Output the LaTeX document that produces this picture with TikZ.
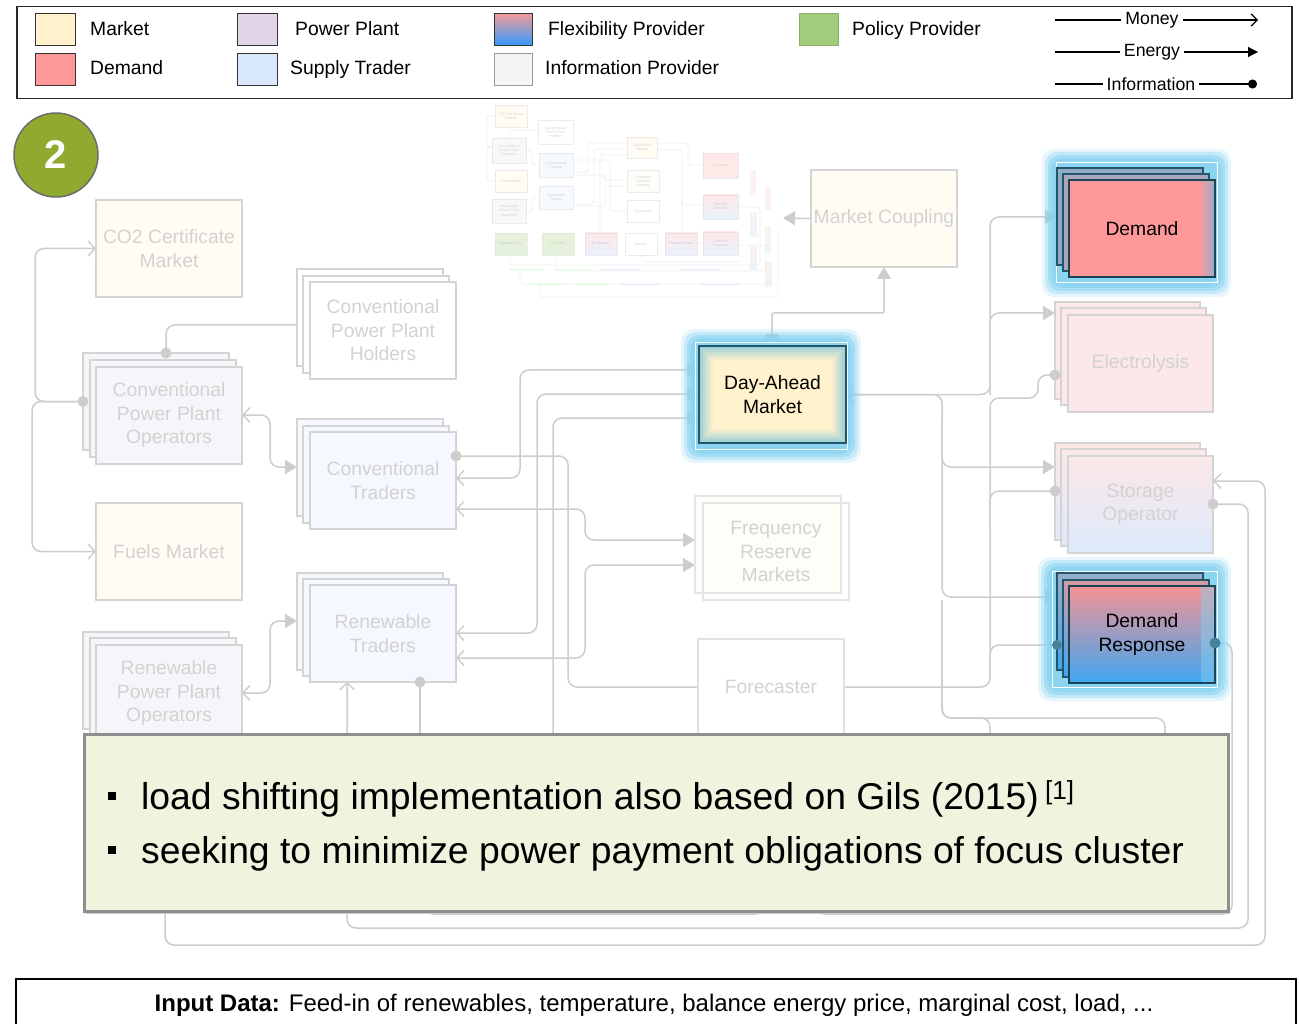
\documentclass[tikz,border=0pt]{standalone}
\usepackage{fontspec}
\setmainfont{Liberation Sans}
\usetikzlibrary{arrows.meta,calc}
\pgfdeclarelayer{bgwhite}
\pgfdeclarelayer{back}
\pgfdeclarelayer{lines}
\pgfdeclarelayer{glow}
\pgfdeclarelayer{front}
\pgfsetlayers{bgwhite,back,lines,glow,main,front}

\definecolor{lnc}{HTML}{CDCDCD}
\definecolor{fbord}{HTML}{D4D4D4}
\definecolor{ftext}{HTML}{D2D2D2}
\definecolor{mkt}{HTML}{FFF2CC}
\definecolor{demc}{HTML}{FF9999}
\definecolor{ppc}{HTML}{E1D5E7}
\definecolor{stc}{HTML}{DAE8FC}
\definecolor{flexT}{HTML}{F19C99}
\definecolor{flexB}{HTML}{3399FF}
\definecolor{infoc}{HTML}{F5F5F5}
\definecolor{polc}{HTML}{A2CC7B}
\definecolor{polb}{HTML}{82B366}
\definecolor{fmkt}{HTML}{FFFCF3}
\definecolor{fpp}{HTML}{F7F5F9}
\definecolor{fst}{HTML}{F5F8FE}
\definecolor{fdem}{HTML}{FCE8E8}
\definecolor{fsob}{HTML}{DDE9FB}
\definecolor{glowc}{HTML}{86D3F1}
\definecolor{hib}{HTML}{22566A}
\definecolor{bulbg}{HTML}{EFF4DF}
\definecolor{bulbd}{HTML}{8E8E8E}
\definecolor{circg}{HTML}{8FAA2E}
\definecolor{drT}{HTML}{F59393}
\definecolor{drM}{HTML}{A498C8}
\definecolor{drB}{HTML}{3FA6F3}
\definecolor{demS}{HTML}{97AECB}
\definecolor{demBk}{HTML}{93AAC4}
\definecolor{demMd}{HTML}{A9A6BD}
\definecolor{daEdge}{HTML}{9CCFD6}

\tikzset{
  OB/.tip={Straight Barb[length=7pt,width=15pt,line width=1.4pt]},
  FT/.tip={Triangle[length=12pt,width=14pt]},
  fl/.style={draw=lnc, line width=1.5pt, rounded corners=9pt},
  idot/.style={fill=lnc},
  fbox/.style={draw=fbord, line width=1.4pt, minimum width=146pt, minimum height=97pt, anchor=north west, inner sep=0pt, outer sep=0pt, text=ftext, font=\fontsize{19.3}{23.5}\selectfont, align=center},
  hbox/.style={draw=hib, line width=1.5pt, minimum width=146pt, minimum height=97pt, anchor=north west, inner sep=0pt, outer sep=0pt, text=black, font=\fontsize{19.3}{23.5}\selectfont, align=center},
  swatch/.style={draw=black!80, line width=1.4pt, minimum width=40pt, minimum height=32pt, anchor=north west, inner sep=0pt},
  leglab/.style={anchor=base west, inner sep=0pt, font=\fontsize{19.3}{22}\selectfont},
  legsm/.style={inner sep=0pt, font=\fontsize{17.7}{20}\selectfont},
  tb/.style={draw=black!14, line width=0.6pt, anchor=north west, inner sep=0pt, outer sep=0pt, font=\fontsize{3.6}{4.2}\selectfont, text=black!30, align=center, minimum width=32pt, minimum height=22pt},
  tl/.style={draw=black!12, line width=0.7pt, rounded corners=3pt},
}

\newcommand\glowrect[4]{%
  \foreach \d/\o in {14/0.2,11/0.35,8/0.5,5/0.6,2/0.6}{%
    \fill[glowc, opacity=\o, rounded corners=12pt] ({#1-\d},{#2-\d}) rectangle ({#3+\d},{#4+\d});
  }}

\begin{document}
\begin{tikzpicture}[x=1pt,y=-1pt]
\useasboundingbox (0,0) rectangle (1299,1024);
\begin{pgfonlayer}{bgwhite}
\fill[white] (0,0) rectangle (1299,1024);
\end{pgfonlayer}

% ================= thumbnail =================
\begin{pgfonlayer}{back}
\begin{scope}[opacity=0.55]
  \fill[fdem] (750,170) rectangle (756,195);
  \fill[fdem] (765,187) rectangle (771,210);
  \shade[top color=fdem, bottom color=fsob] (750,213) rectangle (757,237);
  \shade[top color=fdem, bottom color=fsob] (765,227) rectangle (771,252);
  \shade[top color=fdem, bottom color=fsob] (750,247) rectangle (757,270);
  \shade[top color=fdem, bottom color=fsob] (765,263) rectangle (772,287);
  \draw[tl] (497,147) -- (487,147) -- (487,116) -- (495,116);
  \draw[tl] (490,147) -- (487,147) -- (487,181) -- (495,181);
  \draw[tl] (538,130) -- (509,130) -- (509,138);
  \draw[tl] (526,150) -- (532,150) -- (532,165) -- (539,165);
  \draw[tl] (526,212) -- (532,212) -- (532,197) -- (539,197);
  \draw[tl] (573,172) -- (588,172) -- (588,143) -- (627,143);
  \draw[tl] (573,204) -- (594,204) -- (594,149) -- (627,149);
  \draw[tl] (600,255) -- (600,155) -- (627,155);
  \draw[tl] (573,175) -- (605,175) -- (605,180) -- (627,180);
  \draw[tl] (573,206) -- (605,206) -- (605,186) -- (627,186);
  \draw[tl] (573,160) -- (610,160) -- (610,211) -- (627,211);
  \draw[tl] (657,143) -- (688,143) -- (688,165) -- (703,165);
  \draw[tl] (657,150) -- (682,150) -- (682,205) -- (703,205);
  \draw[tl] (682,200) -- (682,243) -- (703,243);
  \draw[tl] (510,255) -- (510,265) -- (760,265) -- (760,207) -- (738,207);
  \draw[tl] (556,255) -- (556,271) -- (766,271) -- (766,245) -- (738,245);
  \draw[tl] (642,255) -- (642,262) -- (742,262) -- (742,255);
  \draw[tl] (520,270) -- (520,284) -- (778,284) -- (778,230);
  \draw[tl] (540,284) -- (540,297) -- (778,297) -- (778,284);
  \draw[green!25, line width=1pt] (510,270) -- (545,270) (555,270) -- (590,270) (530,285) -- (565,285) (575,285) -- (610,285);
  \draw[blue!15, line width=1pt] (600,270) -- (640,270) (680,270) -- (720,270) (620,285) -- (660,285) (700,285) -- (740,285);
  \node[tb, fill=mkt!40] (tco2) at (495,105) {CO2 Certificate\\Market};
  \node[tb, fill=white, minimum width=35pt, minimum height=24pt] (thold) at (538,120) {Conventional\\Power Plant\\Holders};
  \node[tb, fill=ppc!30, minimum width=34pt, minimum height=25pt] (tcpo) at (492,138) {Conventional\\Power Plant\\Operators};
  \node[tb, fill=stc!40, minimum width=34pt, minimum height=24pt] (tct) at (539,153) {Conventional\\Traders};
  \node[tb, fill=mkt!40] (tfuel) at (495,170) {Fuels Market};
  \node[tb, fill=stc!40, minimum width=34pt, minimum height=23pt] (trt) at (539,186) {Renewable\\Traders};
  \node[tb, fill=ppc!30, minimum width=34pt, minimum height=24pt] (trpo) at (492,199) {Renewable\\Power Plant\\Operators};
  \node[tb, fill=mkt!40, minimum width=30pt, minimum height=21pt] (tdam) at (627,137) {Day-Ahead\\Market};
  \node[tb, fill=mkt!20] (tfrm) at (627,170) {Frequency\\Reserve\\Markets};
  \node[tb, fill=white] (tfc) at (627,200) {Forecaster};
  \node[tb, fill=demc!40, minimum width=35pt, minimum height=25pt] (tdem) at (703,153) {Demand};
  \node[tb, top color=demc!40, bottom color=stc, minimum width=35pt, minimum height=24pt] (tso) at (703,195) {Storage\\Operator};
  \node[tb, top color=demc!40, bottom color=stc, minimum width=35pt, minimum height=23pt] (tdr) at (703,232) {Demand\\Response};
  \node[tb, fill=polc!50, draw=polb!30] (tsp) at (495,233) {Support Policy};
  \node[tb, fill=polc!50, draw=polb!30] (ttp) at (542,233) {Tax Policy};
  \node[tb, top color=demc!40, bottom color=stc] (tel) at (585,233) {Electrolysis};
  \node[tb, fill=white] (tret) at (625,233) {Retailer};
  \node[tb, top color=demc!40, bottom color=stc] (thp) at (665,233) {Heating Power};
\end{scope}
\end{pgfonlayer}

% ================= faded boxes =================
\node[fbox, fill=fmkt] (co2) at (96,200) {CO2 Certificate\\Market};
\node[fbox, fill=white] (hold1) at (297,269) {};
\node[fbox, fill=white] (hold2) at (303,276) {};
\node[fbox, fill=white] (hold) at (310,282) {Conventional\\Power Plant\\Holders};
\node[fbox, fill=fpp] (cpo1) at (83,353) {};
\node[fbox, fill=fpp] (cpo2) at (90,360) {};
\node[fbox, fill=fpp] (cpo) at (96,367) {Conventional\\Power Plant\\Operators};
\node[fbox, fill=fst] (ct1) at (297,419) {};
\node[fbox, fill=fst] (ct2) at (303,426) {};
\node[fbox, fill=fst] (ct) at (310,432) {Conventional\\Traders};
\node[fbox, fill=fmkt] (fuels) at (96,503) {Fuels Market};
\node[fbox, fill=fst] (rt1) at (297,573) {};
\node[fbox, fill=fst] (rt2) at (303,579) {};
\node[fbox, fill=fst] (rt) at (310,585) {Renewable\\Traders};
\node[fbox, fill=fpp] (rpo1) at (83,632) {};
\node[fbox, fill=fpp] (rpo2) at (90,638) {};
\node[fbox, fill=fpp] (rpo) at (96,645) {Renewable\\Power Plant\\Operators};
\node[fbox, fill=fmkt!60!white, draw=fbord!60!white] (frm1) at (695,496) {};
\node[fbox, draw=fbord!60!white] (frm2) at (703,503) {Frequency\\Reserve\\Markets};
\node[fbox, fill=white, draw=fbord!70!white, minimum height=96pt] (fc) at (698,639) {Forecaster};
\node[fbox, fill=fmkt] (mc) at (811,170) {Market Coupling};
\node[fbox, fill=fdem, minimum width=145pt] (el1) at (1055,302) {};
\node[fbox, fill=fdem, minimum width=145pt] (el2) at (1061,308) {};
\node[fbox, fill=fdem, minimum width=145pt] (el) at (1068,315) {Electrolysis};
\node[fbox, top color=fdem, bottom color=fsob, minimum width=145pt] (so1) at (1055,443) {};
\node[fbox, top color=fdem, bottom color=fsob, minimum width=145pt] (so2) at (1061,449) {};
\node[fbox, top color=fdem, bottom color=fsob, minimum width=145pt] (so) at (1068,456) {Storage\\Operator};

% ================= highlighted boxes =================
\draw[white, line width=1pt] (695,343) rectangle (847,449);
\fill[daEdge] (699,346) rectangle (846,443);
\foreach \i/\m in {2/15,4/30,6/45,8/60,10/75,12/90,14/100}{%
  \fill[mkt!\m!daEdge] ({699+\i},{346+\i}) rectangle ({846-\i},{443-\i});
}
\node[hbox, minimum width=147pt] (dam) at (699,346) {Day-Ahead\\Market};

\draw[white, line width=1pt] (1056,163) rectangle (1217,283);
\node[hbox, fill=demBk] (dem1) at (1057,168) {};
\node[hbox, fill=demMd] (dem2) at (1063,174) {};
\fill[demc] (1069,180) rectangle (1215,277);
\shade[left color=demc, right color=demS] (1199,180) rectangle (1215,277);
\node[hbox, draw=hib!80!black] (dem) at (1069,180) {Demand};

\draw[white, line width=1pt] (1052,571) rectangle (1217,687);
\node[hbox, top color=demS, bottom color=drB] (dr1) at (1057,573) {};
\node[hbox, top color=drT!70!demS, bottom color=drB] (dr2) at (1063,580) {};
\shade[top color=drT, middle color=drM, bottom color=drB] (1069,586) rectangle (1215,683);
\fill[glowc, opacity=0.45] (1201,587) rectangle (1215,682);
\node[hbox, draw=hib!80!black] (dr) at (1069,586) {Demand\\Response};

% ================= glows =================
\begin{pgfonlayer}{glow}
  \glowrect{695}{343}{847}{449}
  \glowrect{1056}{163}{1217}{283}
  \glowrect{1052}{571}{1217}{687}
\end{pgfonlayer}

% ================= connectors =================
\begin{pgfonlayer}{lines}
  \draw[fl, -OB] (cpo1.west) -- (35,0 |- cpo1.west) -- (35,0 |- co2.west) -- (co2.west);
  \draw[fl, -OB] (cpo1.west) -- (32,0 |- cpo1.west) -- (32,0 |- fuels.west) -- (fuels.west);
  \draw[fl] (hold1.west |- 0,325) -- (166,325) -- (166,0 |- cpo1.north);
  \draw[fl, OB-FT] (cpo.east |- 0,415) -- (270,415) -- (270,467) -- (ct1.west |- 0,467);
  \draw[fl, OB-FT] (rpo.east |- 0,693) -- (270,693) -- (270,621) -- (rt1.west |- 0,621);
  % loops under the text box
  \draw[fl, -OB] (so.east |- 0,504) -- (1248,504) -- (1248,928) -- (347,928) -- (347,0 |- rt.south);
  \draw[fl, -OB] (165,0 |- rpo.south) -- (165,945) -- (1265,945) -- (1265,481) -- (so.east |- 0,481);
  \coordinate (rtdown) at (420,820);
  \draw[fl] (rt.south -| 420,0) -- (rtdown);
  \draw[fl] (dr.east |- 0,643) -- (1232,643) -- (1232,914) -- (815,914) -- (815,870);
  \coordinate (hidA) at (424,870);
  \coordinate (hidB) at (765,870);
  \draw[fl] (hidA) -- (424,914) -- (765,914) -- (hidB);
  % forecaster to conventional traders
  \draw[fl] (fc.west |- 0,687) -- (568,687) -- (568,456) -- (ct.east |- 0,456);
  % day-ahead market inputs
  \draw[fl, OB-FT] (ct.east |- 0,478) -- (520,478) -- (520,370) -- (dam.west |- 0,370);
  \draw[fl, OB-FT] (rt.east |- 0,633) -- (537,633) -- (537,394) -- (dam.west |- 0,394);
  \coordinate (damlow) at (553,820);
  \draw[fl, -FT] (damlow) -- (553,418) -- (dam.west |- 0,418);
  % frequency reserve markets
  \draw[fl, OB-FT] (ct.east |- 0,509) -- (585,509) -- (585,540) -- (frm1.west |- 0,540);
  \draw[fl, OB-FT] (rt.east |- 0,658) -- (585,658) -- (585,565) -- (frm1.west |- 0,565);
  % market coupling
  \coordinate (mcout) at (783,218);
  \draw[fl, -FT] (mc.west) -- (mcout);
  \draw[fl, FT-FT, rounded corners=2pt] (dam.north -| 772,0) -- (772,313) -- (884,313) -- (mc.south -| 884,0);
  % right side
  \draw[fl, OB-FT] (dam.east) -- (990,0 |- dam.east) -- (990,217) -- (dem1.west |- 0,217);
  \coordinate (trA) at (990,395);
  \draw[fl, -FT] (trA) -- (990,313) -- (el1.west |- 0,313);
  \draw[fl, -FT] (dam.east) -- (942,0 |- dam.east) -- (942,467) -- (so1.west |- 0,467);
  \coordinate (trB) at (942,420);
  \draw[fl, -FT] (trB) -- (942,597) -- (dr1.west |- 0,597);
  \coordinate (trC) at (942,600);
  \coordinate (downA) at (1165,820);
  \coordinate (downB) at (990,820);
  \draw[fl] (trC) -- (942,718) -- (1165,718) -- (downA);
  \draw[fl] (trC) -- (942,718) -- (990,718) -- (downB);
  % information trunk from the forecaster
  \draw[fl] (fc.east |- 0,687) -- (990,687) -- (990,398) -- (1038,398) -- (1038,375) -- (el1.west |- 0,375);
  \coordinate (trD) at (990,530);
  \coordinate (trE) at (990,675);
  \draw[fl] (trD) -- (990,491) -- (so1.west |- 0,491);
  \draw[fl] (trE) -- (990,645) -- (dr1.west |- 0,645);
\end{pgfonlayer}

% information dots (drawn over the boxes)
\fill[idot] (cpo1.west) circle (5.5pt);
\fill[idot] (166,0 |- cpo1.north) circle (5.5pt);
\fill[idot] (so.east |- 0,504) circle (5.5pt);
\fill[idot] (rt.south -| 420,0) circle (5.5pt);
\fill[idot] (ct.east |- 0,456) circle (5.5pt);
\fill[idot] (el1.west |- 0,375) circle (5.5pt);
\fill[idot] (so1.west |- 0,491) circle (5.5pt);
\fill[hib!65!glowc] (dr.east |- 0,643) circle (5.5pt);
\fill[hib!65!glowc] (dr1.west |- 0,645) circle (5pt);

% ================= step marker =================
\node[circle, minimum size=84pt, inner sep=0pt, fill=circg, draw=gray!85!black, line width=1.5pt, text=white, font=\fontsize{40}{40}\selectfont\bfseries] (stepmark) at (56,155) {2};

% ================= text box and input data =================
\begin{pgfonlayer}{front}
  \fill[gray!40] (86,737) rectangle (1230,914);
  \node[draw=bulbd, fill=bulbg, line width=2.5pt, minimum width=1144pt, minimum height=177pt, anchor=north west, inner sep=0pt] (bbox) at (83,733) {};
  \node[fill=black, minimum size=8pt, inner sep=0pt] (bul1) at (112,796) {};
  \node[fill=black, minimum size=8pt, inner sep=0pt] (bul2) at (112,850) {};
  \node[anchor=base west, inner sep=0pt, font=\fontsize{37.3}{40}\selectfont] (btx1) at (141,809) {load shifting implementation also based on Gils (2015)\,\textsuperscript{[1]}};
  \node[anchor=base west, inner sep=0pt, font=\fontsize{37.3}{40}\selectfont] (btx2) at (141,863) {seeking to minimize power payment obligations of focus cluster};

  \node[draw=black, line width=1.5pt, minimum width=1280pt, minimum height=70pt, anchor=north west, inner sep=0pt] (inbox) at (15,978) {};
  \node[anchor=base, inner sep=0pt, font=\fontsize{24}{28}\selectfont] (intx) at (654,1011) {\textbf{Input Data:} Feed-in of renewables, temperature, balance energy price, marginal cost, load, ...};

  % ================= legend =================
  \node[draw=black!85, line width=1.5pt, minimum width=1275pt, minimum height=92pt, anchor=north west, inner sep=0pt] (legbox) at (16,6) {};
  \node[swatch, fill=mkt] (sw1) at (35,13) {};
  \node[leglab] (lb1) at (90,36) {Market};
  \node[swatch, fill=demc] (sw2) at (35,53) {};
  \node[leglab] (lb2) at (90,75) {Demand};
  \node[swatch, fill=ppc] (sw3) at (237,13) {};
  \node[leglab] (lb3) at (295,36) {Power Plant};
  \node[swatch, fill=stc] (sw4) at (237,53) {};
  \node[leglab] (lb4) at (290,75) {Supply Trader};
  \node[swatch, top color=flexT, bottom color=flexB, minimum width=38pt] (sw5) at (494,13) {};
  \node[leglab] (lb5) at (548,36) {Flexibility Provider};
  \node[swatch, fill=infoc, draw=gray!80, minimum width=38pt] (sw6) at (494,53) {};
  \node[leglab] (lb6) at (545,75) {Information Provider};
  \node[swatch, fill=polc, draw=polb, minimum width=39pt] (sw7) at (799,13) {};
  \node[leglab] (lb7) at (852,36) {Policy Provider};

  \node[legsm] (lmoney) at (1152,20) {Money};
  \coordinate (lmA) at (1055,20);
  \coordinate (lmB) at (1258,20);
  \draw[black, line width=1.2pt] (lmA) -- ([xshift=-4pt]lmoney.west);
  \draw[black, line width=1.2pt, -{Straight Barb[length=6pt,width=12pt]}] ([xshift=4pt]lmoney.east) -- (lmB);
  \node[legsm] (lenergy) at (1152,52) {Energy};
  \coordinate (leA) at (1055,52);
  \coordinate (leB) at (1258,52);
  \draw[black, line width=1.2pt] (leA) -- ([xshift=-4pt]lenergy.west);
  \draw[black, line width=1.2pt, -{Triangle[length=10pt,width=10pt]}] ([xshift=4pt]lenergy.east) -- (leB);
  \node[legsm] (linfo) at (1151,84) {Information};
  \coordinate (liA) at (1055,84);
  \coordinate (liB) at (1257,84);
  \draw[black, line width=1.2pt] (liA) -- ([xshift=-4pt]linfo.west);
  \draw[black, line width=1.2pt, -{Circle[length=9pt]}] ([xshift=4pt]linfo.east) -- (liB);
\end{pgfonlayer}
\end{tikzpicture}
\end{document}
